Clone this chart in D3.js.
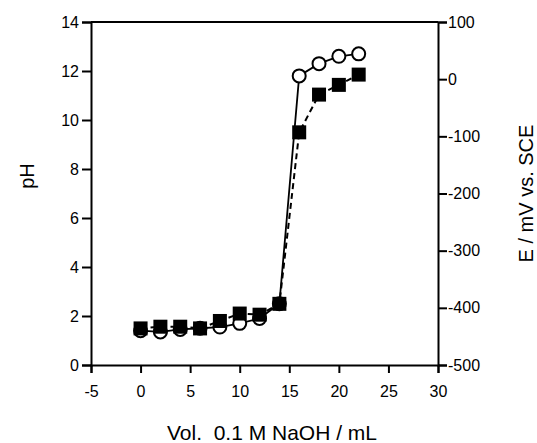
<!DOCTYPE html>
<html>
<head>
<meta charset="utf-8">
<script src="https://cdn.jsdelivr.net/npm/d3@7"></script>
<style>
  body { margin: 0; background: #fff; }
  text { font-family: "Liberation Sans", Arial, sans-serif; fill: #000; }
</style>
</head>
<body>
<svg id="chart" width="537" height="443"></svg>
<script>
// volumes of 0.1 M NaOH added (mL)
const volumes = [0, 2, 4, 6, 8, 10, 12, 14, 16, 18, 20, 22];
// pH readings (open circles, solid line)
const phValues = [1.4, 1.35, 1.45, 1.5, 1.55, 1.7, 1.9, 2.5, 11.8, 12.3, 12.6, 12.7];
// potential readings, mV vs. SCE (filled squares, dashed line)
const eValues = [-436, -433, -433, -436, -423, -410, -412, -393, -93, -27, -10, 8];

const xTicks = [-5, 0, 5, 10, 15, 20, 25, 30];
const phTicks = [0, 2, 4, 6, 8, 10, 12, 14];
const eTicks = [-500, -400, -300, -200, -100, 0, 100];

const svg = d3.select('#chart');
const margin = { top: 22, right: 99, bottom: 78, left: 91 };
const width = 537 - margin.left - margin.right;
const height = 443 - margin.top - margin.bottom;

const g = svg.append('g')
  .attr('transform', `translate(${margin.left},${margin.top})`);

const x = d3.scaleLinear().domain([-5, 30]).range([0, width]);
const yPh = d3.scaleLinear().domain([0, 14]).range([height, 0]);
const yE = d3.scaleLinear().domain([-500, 100]).range([height, 0]);

// plain hyphen for negatives, like the original
const fmt = d => String(d);

function styleAxis(sel) {
  sel.select('.domain').attr('stroke-width', 2);
  sel.selectAll('.tick line').attr('stroke-width', 2);
  sel.selectAll('.tick text').attr('font-size', 16)
    .style('font-family', '"Liberation Sans", Arial, sans-serif');
}

g.append('g')
  .attr('transform', `translate(0,${height})`)
  .call(d3.axisBottom(x).tickValues(xTicks).tickFormat(fmt)
    .tickSizeOuter(0).tickSize(8).tickPadding(13))
  .call(styleAxis);

g.append('g')
  .call(d3.axisLeft(yPh).tickValues(phTicks).tickFormat(fmt)
    .tickSizeOuter(0).tickSize(9).tickPadding(3))
  .call(styleAxis);

g.append('g')
  .attr('transform', `translate(${width},0)`)
  .call(d3.axisRight(yE).tickValues(eTicks).tickFormat(fmt)
    .tickSizeOuter(0).tickSize(9).tickPadding(1))
  .call(styleAxis);

// top frame line
g.append('line')
  .attr('x1', 0).attr('x2', width)
  .attr('y1', 0).attr('y2', 0)
  .attr('stroke', '#000').attr('stroke-width', 2);

// squares series (E), dashed
const eData = volumes.map((v, i) => ({ v, e: eValues[i] }));
g.append('path')
  .datum(eData)
  .attr('fill', 'none')
  .attr('stroke', '#000')
  .attr('stroke-width', 2)
  .attr('stroke-dasharray', '6,4')
  .attr('d', d3.line().x(d => x(d.v)).y(d => yE(d.e)));

// circles series (pH), solid
const phData = volumes.map((v, i) => ({ v, ph: phValues[i] }));
g.append('path')
  .datum(phData)
  .attr('fill', 'none')
  .attr('stroke', '#000')
  .attr('stroke-width', 1.8)
  .attr('d', d3.line().x(d => x(d.v)).y(d => yPh(d.ph)));

g.selectAll('.pt-circle')
  .data(phData)
  .enter()
    .append('circle')
    .attr('class', 'pt-circle')
    .attr('cx', d => x(d.v))
    .attr('cy', d => yPh(d.ph))
    .attr('r', 6.5)
    .attr('fill', '#fff')
    .attr('stroke', '#000')
    .attr('stroke-width', 2);

const sq = 14;
g.selectAll('.pt-square')
  .data(eData)
  .enter()
    .append('rect')
    .attr('class', 'pt-square')
    .attr('x', d => x(d.v) - sq / 2)
    .attr('y', d => yE(d.e) - sq / 2)
    .attr('width', sq)
    .attr('height', sq)
    .attr('fill', '#000');

// axis titles
svg.append('text')
  .attr('x', 272)
  .attr('y', 440)
  .attr('text-anchor', 'middle')
  .attr('font-size', 21)
  .style('white-space', 'pre')
  .text('Vol.  0.1 M NaOH / mL');

svg.append('text')
  .attr('transform', 'translate(34,176) rotate(-90)')
  .attr('text-anchor', 'middle')
  .attr('font-size', 20)
  .text('pH');

svg.append('text')
  .attr('transform', `translate(533,${margin.top + height / 2}) rotate(-90)`)
  .attr('text-anchor', 'middle')
  .attr('font-size', 20)
  .text('E / mV vs. SCE');
</script>
</body>
</html>
